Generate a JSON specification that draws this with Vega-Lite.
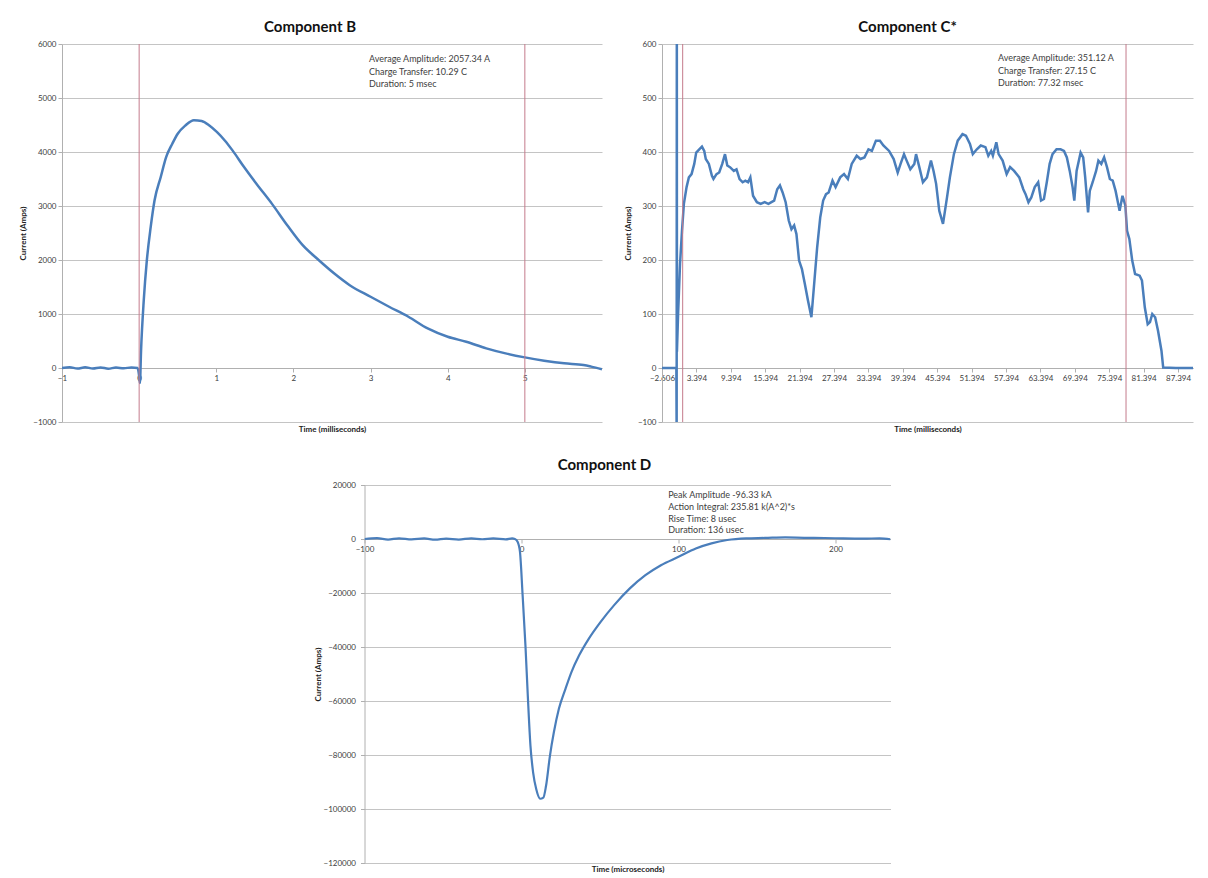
{
  "$schema": "https://vega.github.io/schema/vega-lite/v6.json",
  "background": "white",
  "padding": {"left": 19, "top": 20, "right": 5, "bottom": 0},
  "config": {
    "font": "Lato",
    "view": {"stroke": null},
    "axis": {
      "labelFont": "Lato", "labelFontSize": 8, "labelColor": "#404040", "labelPadding": 2, "labelOverlap": false,
      "titleFont": "Lato", "titleFontSize": 8, "titleFontWeight": "bold", "titleColor": "#222222",
      "gridColor": "#c4c4c4", "domainColor": "#b0b0b0", "tickColor": "#b0b0b0", "tickSize": 4
    },
    "title": {"font": "Lato", "fontSize": 15, "fontWeight": "bold", "color": "#111111"}
  },
  "center": true,
  "spacing": 25,
  "vconcat": [
    {
      "spacing": 22,
      "hconcat": [
        {
          "width": 540, "height": 378,
          "title": {"text": "Component B", "dx": -22, "offset": 5},
          "layer": [
            {
              "data": {"values": [
                {"t": -1, "v": 0}, {"t": -0.9, "v": 15}, {"t": -0.8, "v": -10}, {"t": -0.7, "v": 12}, {"t": -0.6, "v": -8},
                {"t": -0.5, "v": 10}, {"t": -0.4, "v": -12}, {"t": -0.3, "v": 8}, {"t": -0.2, "v": -5}, {"t": -0.1, "v": 10},
                {"t": -0.02, "v": 0}, {"t": 0, "v": -150}, {"t": 0.01, "v": -280}, {"t": 0.025, "v": 330}, {"t": 0.06, "v": 1257},
                {"t": 0.1, "v": 1996}, {"t": 0.15, "v": 2612}, {"t": 0.2, "v": 3105}, {"t": 0.28, "v": 3537}, {"t": 0.35, "v": 3906},
                {"t": 0.43, "v": 4153}, {"t": 0.5, "v": 4338}, {"t": 0.6, "v": 4492}, {"t": 0.71, "v": 4590}, {"t": 0.81, "v": 4575},
                {"t": 0.91, "v": 4492}, {"t": 1.01, "v": 4368}, {"t": 1.11, "v": 4214}, {"t": 1.21, "v": 4030}, {"t": 1.36, "v": 3722},
                {"t": 1.52, "v": 3413}, {"t": 1.72, "v": 3044}, {"t": 1.92, "v": 2643}, {"t": 2.12, "v": 2274}, {"t": 2.33, "v": 1996},
                {"t": 2.53, "v": 1750}, {"t": 2.73, "v": 1534}, {"t": 3.0, "v": 1319}, {"t": 3.24, "v": 1134}, {"t": 3.49, "v": 949},
                {"t": 3.74, "v": 733}, {"t": 4.0, "v": 579}, {"t": 4.24, "v": 487}, {"t": 4.5, "v": 364}, {"t": 4.75, "v": 271},
                {"t": 5.0, "v": 197}, {"t": 5.25, "v": 136}, {"t": 5.51, "v": 86}, {"t": 5.76, "v": 55}, {"t": 5.86, "v": 25},
                {"t": 6.0, "v": -25}
              ]},
              "mark": {"type": "line", "color": "#4a7ebb", "strokeWidth": 2.5, "clip": true, "interpolate": "monotone"},
              "encoding": {
                "x": {"field": "t", "type": "quantitative", "scale": {"domain": [-1, 6], "nice": false, "zero": false},
                      "axis": {"values": [-1, 0, 1, 2, 3, 4, 5], "format": "d", "offset": -54, "grid": false, "title": "Time (milliseconds)", "titleY": 57, "labelFlush": false, "labelOverlap": false}},
                "y": {"field": "v", "type": "quantitative", "scale": {"domain": [-1000, 6000], "nice": false},
                      "axis": {"values": [-1000, 0, 1000, 2000, 3000, 4000, 5000, 6000], "format": "d", "grid": true, "title": "Current (Amps)", "titlePadding": 5}}
              }
            },
            {
              "data": {"values": [{"t": 0}, {"t": 5}]},
              "mark": {"type": "rule", "color": "#c47b8c", "strokeWidth": 1},
              "encoding": {"x": {"field": "t", "type": "quantitative"}}
            },
            {
              "data": {"values": [{}]},
              "mark": {"type": "text", "text": ["Average Amplitude:  2057.34  A", "Charge Transfer:  10.29  C", "Duration:  5 msec"], "align": "left", "baseline": "top", "fontSize": 9, "lineHeight": 12.5, "color": "#404040"},
              "encoding": {"x": {"datum": 2.98, "type": "quantitative"}, "y": {"datum": 5796, "type": "quantitative"}}
            }
          ]
        },
        {
          "width": 531, "height": 378,
          "title": {"text": "Component C*", "dx": -20, "offset": 5},
          "layer": [
            {
              "data": {"values": [
                {"t": -2.606, "v": 0}, {"t": -1.5, "v": 0}, {"t": -0.5, "v": 0}, {"t": -0.1, "v": 0}, {"t": -0.05, "v": -130},
                {"t": -0.02, "v": 700}, {"t": 0.0, "v": 30}, {"t": 0.2, "v": 100}, {"t": 0.54, "v": 193}, {"t": 0.88, "v": 254},
                {"t": 1.21, "v": 304}, {"t": 1.68, "v": 335}, {"t": 2.08, "v": 353}, {"t": 2.55, "v": 359}, {"t": 3.02, "v": 378},
                {"t": 3.36, "v": 399}, {"t": 3.89, "v": 405}, {"t": 4.36, "v": 410}, {"t": 4.76, "v": 402}, {"t": 5.03, "v": 387},
                {"t": 5.57, "v": 378}, {"t": 6.1, "v": 356}, {"t": 6.37, "v": 350}, {"t": 6.9, "v": 359}, {"t": 7.37, "v": 362},
                {"t": 7.9, "v": 378}, {"t": 8.38, "v": 396}, {"t": 8.78, "v": 375}, {"t": 9.25, "v": 372}, {"t": 9.92, "v": 365},
                {"t": 10.39, "v": 368}, {"t": 10.92, "v": 350}, {"t": 11.46, "v": 344}, {"t": 11.93, "v": 347}, {"t": 12.4, "v": 344},
                {"t": 12.8, "v": 353}, {"t": 13.27, "v": 319}, {"t": 13.94, "v": 307}, {"t": 14.61, "v": 304}, {"t": 15.28, "v": 307},
                {"t": 15.95, "v": 304}, {"t": 16.95, "v": 310}, {"t": 17.49, "v": 331}, {"t": 17.96, "v": 338}, {"t": 18.43, "v": 325},
                {"t": 18.96, "v": 307}, {"t": 19.5, "v": 273}, {"t": 19.97, "v": 257}, {"t": 20.44, "v": 264}, {"t": 20.84, "v": 248},
                {"t": 21.3, "v": 199}, {"t": 21.8, "v": 183}, {"t": 22.3, "v": 156}, {"t": 22.85, "v": 125}, {"t": 23.45, "v": 94},
                {"t": 23.98, "v": 162}, {"t": 24.45, "v": 223}, {"t": 24.99, "v": 279}, {"t": 25.5, "v": 310}, {"t": 26.0, "v": 322},
                {"t": 26.46, "v": 325}, {"t": 27.13, "v": 347}, {"t": 27.67, "v": 335}, {"t": 28.47, "v": 353}, {"t": 29.14, "v": 359},
                {"t": 29.81, "v": 350}, {"t": 30.48, "v": 378}, {"t": 31.35, "v": 393}, {"t": 32.0, "v": 387}, {"t": 32.7, "v": 390},
                {"t": 33.4, "v": 405}, {"t": 34.0, "v": 402}, {"t": 34.7, "v": 421}, {"t": 35.4, "v": 421}, {"t": 36.0, "v": 412},
                {"t": 37.0, "v": 402}, {"t": 37.8, "v": 387}, {"t": 38.5, "v": 362}, {"t": 39.0, "v": 378}, {"t": 39.6, "v": 396},
                {"t": 40.06, "v": 384}, {"t": 40.7, "v": 368}, {"t": 41.4, "v": 378}, {"t": 41.7, "v": 396}, {"t": 42.27, "v": 372},
                {"t": 42.9, "v": 344}, {"t": 43.6, "v": 353}, {"t": 44.3, "v": 384}, {"t": 44.75, "v": 365}, {"t": 45.2, "v": 341},
                {"t": 45.75, "v": 291}, {"t": 46.4, "v": 267}, {"t": 47.1, "v": 316}, {"t": 47.6, "v": 353}, {"t": 48.3, "v": 396},
                {"t": 48.97, "v": 421}, {"t": 49.8, "v": 433}, {"t": 50.4, "v": 430}, {"t": 51.1, "v": 415}, {"t": 51.6, "v": 396},
                {"t": 52.3, "v": 405}, {"t": 52.99, "v": 412}, {"t": 53.8, "v": 409}, {"t": 54.3, "v": 393}, {"t": 54.8, "v": 402},
                {"t": 55.1, "v": 393}, {"t": 55.7, "v": 418}, {"t": 56.1, "v": 396}, {"t": 56.8, "v": 384}, {"t": 57.5, "v": 359},
                {"t": 58.1, "v": 372}, {"t": 58.8, "v": 365}, {"t": 59.7, "v": 353}, {"t": 60.4, "v": 331}, {"t": 60.8, "v": 322},
                {"t": 61.3, "v": 307}, {"t": 61.8, "v": 316}, {"t": 62.4, "v": 335}, {"t": 63.0, "v": 344}, {"t": 63.5, "v": 310},
                {"t": 64.0, "v": 313}, {"t": 64.5, "v": 344}, {"t": 65.0, "v": 378}, {"t": 65.5, "v": 396}, {"t": 66.2, "v": 405},
                {"t": 66.9, "v": 405}, {"t": 67.5, "v": 402}, {"t": 68.0, "v": 390}, {"t": 68.5, "v": 365}, {"t": 69.0, "v": 335},
                {"t": 69.3, "v": 310}, {"t": 69.7, "v": 365}, {"t": 70.4, "v": 399}, {"t": 70.85, "v": 390}, {"t": 71.2, "v": 353},
                {"t": 71.7, "v": 288}, {"t": 72.0, "v": 328}, {"t": 72.5, "v": 344}, {"t": 73.1, "v": 365}, {"t": 73.5, "v": 384},
                {"t": 74.0, "v": 378}, {"t": 74.5, "v": 390}, {"t": 75.0, "v": 372}, {"t": 75.5, "v": 350}, {"t": 76.0, "v": 347},
                {"t": 76.5, "v": 328}, {"t": 77.2, "v": 291}, {"t": 77.7, "v": 319}, {"t": 78.2, "v": 301}, {"t": 78.5, "v": 254},
                {"t": 78.9, "v": 239}, {"t": 79.4, "v": 199}, {"t": 79.9, "v": 174}, {"t": 80.7, "v": 171}, {"t": 81.1, "v": 162},
                {"t": 81.6, "v": 112}, {"t": 82.1, "v": 81}, {"t": 82.5, "v": 85}, {"t": 82.9, "v": 100}, {"t": 83.4, "v": 94},
                {"t": 83.9, "v": 69}, {"t": 84.5, "v": 32}, {"t": 84.8, "v": 1}, {"t": 87, "v": 0}, {"t": 90, "v": 0}
              ]},
              "mark": {"type": "line", "color": "#4a7ebb", "strokeWidth": 2.5, "clip": true},
              "encoding": {
                "x": {"field": "t", "type": "quantitative", "scale": {"domain": [-2.606, 90], "nice": false, "zero": false},
                      "axis": {"values": [-2.606, 3.394, 9.394, 15.394, 21.394, 27.394, 33.394, 39.394, 45.394, 51.394, 57.394, 63.394, 69.394, 75.394, 81.394, 87.394],
                               "tickCount": 20, "format": ".3f", "offset": -54, "grid": false, "title": "Time (milliseconds)", "titleY": 57, "labelFlush": false, "labelOverlap": false}},
                "y": {"field": "v", "type": "quantitative", "scale": {"domain": [-100, 600], "nice": false},
                      "axis": {"values": [-100, 0, 100, 200, 300, 400, 500, 600], "format": "d", "grid": true, "title": "Current (Amps)", "titlePadding": 5}}
              }
            },
            {
              "data": {"values": [{"t": 1.0}, {"t": 78.32}]},
              "mark": {"type": "rule", "color": "#c47b8c", "strokeWidth": 1},
              "encoding": {"x": {"field": "t", "type": "quantitative"}}
            },
            {
              "data": {"values": [{}]},
              "mark": {"type": "text", "text": ["Average Amplitude:  351.12  A", "Charge Transfer:  27.15  C", "Duration:  77.32  msec"], "align": "left", "baseline": "top", "fontSize": 9, "lineHeight": 12.5, "color": "#404040"},
              "encoding": {"x": {"datum": 56.0, "type": "quantitative"}, "y": {"datum": 581, "type": "quantitative"}}
            }
          ]
        }
      ]
    },
    {
      "width": 526, "height": 378,
      "title": {"text": "Component D", "dx": -23, "offset": 8},
      "layer": [
        {
          "data": {"values": [
            {"t": -100, "v": 0}, {"t": -92, "v": 300}, {"t": -85, "v": -200}, {"t": -78, "v": 250}, {"t": -70, "v": -150},
            {"t": -62, "v": 200}, {"t": -55, "v": -250}, {"t": -48, "v": 150}, {"t": -40, "v": -200}, {"t": -32, "v": 250},
            {"t": -25, "v": -100}, {"t": -18, "v": 200}, {"t": -10, "v": -150}, {"t": -6, "v": 200}, {"t": -4.2, "v": 0},
            {"t": -2.5, "v": -1000}, {"t": -1, "v": -4700}, {"t": 0.7, "v": -20800}, {"t": 2.5, "v": -39400}, {"t": 4, "v": -58000},
            {"t": 5.7, "v": -76600}, {"t": 7.4, "v": -86500}, {"t": 9.4, "v": -92700}, {"t": 11.9, "v": -96200}, {"t": 13.9, "v": -95800},
            {"t": 15.6, "v": -91500}, {"t": 18.1, "v": -80300}, {"t": 20.6, "v": -71600}, {"t": 23.8, "v": -62900}, {"t": 28, "v": -55500},
            {"t": 31.8, "v": -49300}, {"t": 36.7, "v": -43100}, {"t": 42.9, "v": -36900}, {"t": 50.4, "v": -30700}, {"t": 59, "v": -24500},
            {"t": 69, "v": -18300}, {"t": 78.9, "v": -13400}, {"t": 88.8, "v": -9700}, {"t": 100, "v": -6600}, {"t": 111, "v": -3500},
            {"t": 121, "v": -1600}, {"t": 131, "v": -370}, {"t": 143, "v": 250}, {"t": 155, "v": 400}, {"t": 168, "v": 600},
            {"t": 180, "v": 450}, {"t": 193, "v": 370}, {"t": 205, "v": 200}, {"t": 218, "v": 120}, {"t": 228, "v": 250}, {"t": 235, "v": -100}
          ]},
          "mark": {"type": "line", "color": "#4a7ebb", "strokeWidth": 2.2, "clip": true, "interpolate": "monotone"},
          "encoding": {
            "x": {"field": "t", "type": "quantitative", "scale": {"domain": [-100, 235], "nice": false, "zero": false},
                  "axis": {"values": [-100, 0, 100, 200], "format": "d", "offset": -324, "grid": false, "title": "Time (microseconds)", "titleY": 326, "labelFlush": false}},
            "y": {"field": "v", "type": "quantitative", "scale": {"domain": [-120000, 20000], "nice": false},
                  "axis": {"values": [-120000, -100000, -80000, -60000, -40000, -20000, 0, 20000], "format": "d", "grid": true, "title": "Current (Amps)", "titlePadding": 1, "labelPadding": 5}}
          }
        },
        {
          "data": {"values": [{}]},
          "mark": {"type": "text", "text": ["Peak Amplitude  -96.33 kA", "Action Integral:  235.81 k(A^2)*s", "Rise Time:  8 usec", "Duration:  136 usec"], "align": "left", "baseline": "top", "fontSize": 9, "lineHeight": 11.8, "color": "#404040"},
          "encoding": {"x": {"datum": 93.4, "type": "quantitative"}, "y": {"datum": 17780, "type": "quantitative"}}
        }
      ]
    }
  ]
}
